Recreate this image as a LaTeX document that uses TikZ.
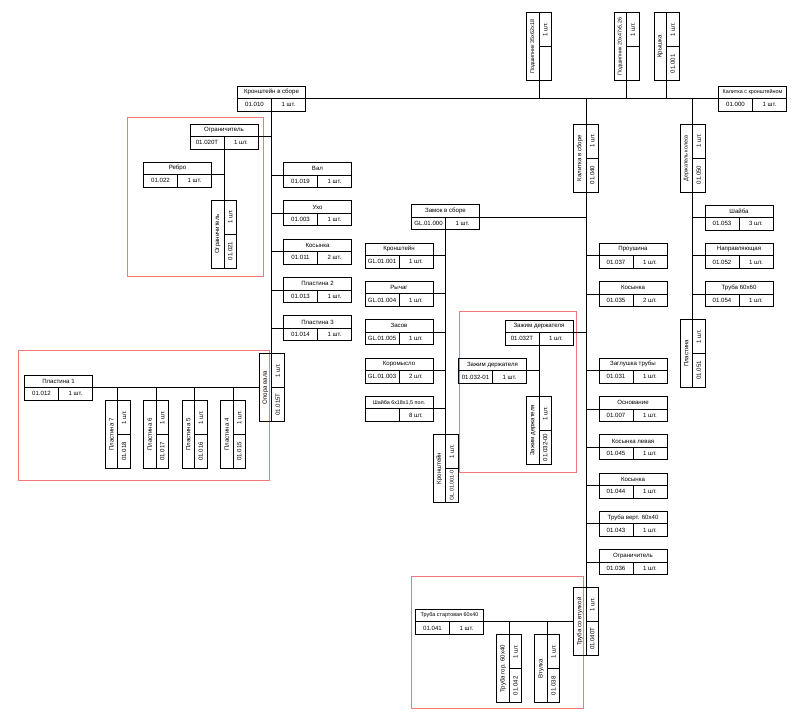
\documentclass[tikz,border=0pt]{standalone}
\usepackage{fontspec}
\setmainfont{Liberation Sans}
\usetikzlibrary{calc}
\definecolor{redframe}{RGB}{240,120,120}
\tikzset{
 part/.style={draw, line width=0.8pt, inner sep=0pt, outer sep=0pt, rectangle},
 hpart/.style={part, minimum width=68pt, minimum height=25pt},
 vpart/.style={part, minimum width=25pt, minimum height=68pt},
 lbl/.style={font=\fontsize{6.1}{7}\selectfont, inner sep=0pt},
 vlbl/.style={lbl, rotate=90},
 link/.style={line width=0.8pt},
 frame/.style={draw=redframe, line width=0.8pt},
}
\newcommand\smalltxt[1]{{\fontsize{5.4}{6}\selectfont #1}}
\newcommand\hbx[5]{%
 \node[hpart] (#1) at (#2) {};
 \draw[link] (#1.west) -- (#1.east) (#1.center) -- (#1.south);
 \node[lbl] (#1-t) at ($(#1.north)!.5!(#1.center)$) {#3};
 \node[lbl] (#1-c) at ($(#1.south west)!.5!(#1.center)$) {#4};
 \node[lbl] (#1-q) at ($(#1.south east)!.5!(#1.center)$) {#5};
}
\newcommand\vbx[5]{%
 \node[vpart] (#1) at (#2) {};
 \draw[link] (#1.north) -- (#1.south) (#1.center) -- (#1.east);
 \node[vlbl] (#1-t) at ($(#1.west)!.5!(#1.center)$) {#3};
 \node[vlbl] (#1-c) at ($(#1.south east)!.5!(#1.center)$) {#4};
 \node[vlbl] (#1-q) at ($(#1.north east)!.5!(#1.center)$) {#5};
}
\begin{document}
\begin{tikzpicture}[x=1pt,y=-1pt]
\useasboundingbox[fill=white] (0,0) rectangle (800,716);
% red frames
\draw[frame] (127.3,117.3) rectangle (263.3,276);
\draw[frame] (18.3,350) rectangle (269.3,480);
\draw[frame] (459,311.7) rectangle (576.7,472.7);
\draw[frame] (411,576.7) rectangle (583.3,708.3);

% top level
\hbx{k010}{271.5,98.5}{Кронштейн в сборе}{01.010}{1 шт.}
\hbx{k000}{752.5,98.5}{\smalltxt{Калитка с кронштейном}}{01.000}{1 шт.}
\vbx{p1}{539,46.7}{\smalltxt{Подшипник 35х62х18}}{}{1 шт.}
\vbx{p2}{626.5,46.7}{\smalltxt{Подшипник 20х47х5,26}}{}{1 шт.}
\vbx{kr001}{666.5,46.7}{Крышка}{01.001}{1 шт.}
\vbx{kv040}{586,158}{Калитка в сборе}{01.040}{1 шт.}
\vbx{d050}{692.5,158}{\smalltxt{Держатель колеса}}{01.050}{1 шт.}

\draw[link] (k010.east) -- (k000.west);
\draw[link] (p1.south) -- (p1.south |- k010.east);
\draw[link] (p2.south) -- (p2.south |- k010.east);
\draw[link] (kr001.south) -- (kr001.south |- k010.east);
\draw[link] (kv040.north) -- (kv040.north |- k010.east);
\draw[link] (d050.north) -- (d050.north |- k010.east);

% Kronshtein v sbore branch
\hbx{o020}{224,136.5}{Ограничитель}{01.020Т}{1 шт.}
\hbx{reb}{177.5,174.5}{Ребро}{01.022}{1 шт.}
\vbx{o021}{224,234}{Ограничитель}{01.021}{1 шт.}
\hbx{val}{317.5,175}{Вал}{01.019}{1 шт.}
\hbx{uho}{317.5,213.3}{Ухо}{01.003}{1 шт.}
\hbx{kos011}{317.5,251.6}{Косынка}{01.011}{2 шт.}
\hbx{pl2}{317.5,289.9}{Пластина 2}{01.013}{1 шт.}
\hbx{pl3}{317.5,328.2}{Пластина 3}{01.014}{1 шт.}
\vbx{op015}{271.5,387.5}{Опора вала}{01.015Т}{1 шт.}
\hbx{pl1}{58.5,387.5}{Пластина 1}{01.012}{1 шт.}
\vbx{pl7}{117.7,434.5}{Пластина 7}{01.018}{1 шт.}
\vbx{pl6}{156,434.5}{Пластина 6}{01.017}{1 шт.}
\vbx{pl5}{194.5,434.5}{Пластина 5}{01.016}{1 шт.}
\vbx{pl4}{233,434.5}{Пластина 4}{01.015}{1 шт.}

\draw[link] (k010.south) -- (op015.north);
\draw[link] (o020.east) -- (o020.east -| k010.south);
\foreach \n in {val,uho,kos011,pl2,pl3}
  \draw[link] (\n.west) -- (\n.west -| k010.south);
\draw[link] (o020.south) -- (o021.north);
\draw[link] (reb.east) -- (reb.east -| o020.south);
\draw[link] (pl1.east) -- (op015.west);
\foreach \n in {pl7,pl6,pl5,pl4}
  \draw[link] (\n.north) -- (\n.north |- pl1.east);

% Kalitka v sbore branch
\hbx{z000}{445.5,217.3}{Замок в сборе}{GL.01.000}{1 шт.}
\hbx{kg001}{399,255.5}{Кронштейн}{GL.01.001}{1 шт.}
\hbx{rg004}{399,293.8}{Рычаг}{GL.01.004}{1 шт.}
\hbx{zs005}{399,332.1}{Засов}{GL.01.005}{1 шт.}
\hbx{km003}{399,370.4}{Коромысло}{GL.01.003}{2 шт.}
\hbx{sh6}{399,408.7}{\smalltxt{Шайба 6х18х1,5 пол.}}{}{8 шт.}
\vbx{kr0010}{445.5,468.5}{Кронштейн}{\smalltxt{GL.01.001-0}}{1 шт.}
\draw[link] (z000.east) -- (z000.east -| kv040.south);
\draw[link] (z000.south) -- (kr0010.north);
\foreach \n in {kg001,rg004,zs005,km003,sh6}
  \draw[link] (\n.east) -- (\n.east -| z000.south);

\hbx{zd032}{539,332.5}{Зажим держателя}{01.032Т}{1 шт.}
\hbx{zd01}{492.5,370.8}{Зажим держателя}{01.032-01}{1 шт.}
\vbx{zd00}{539,430.5}{Зажим держателя}{01.032-00}{1 шт.}
\draw[link] (zd032.east) -- (zd032.east -| kv040.south);
\draw[link] (zd032.south) -- (zd00.north);
\draw[link] (zd01.east) -- (zd01.east -| zd032.south);

\hbx{pr037}{633,255.7}{Проушина}{01.037}{1 шт.}
\hbx{kos035}{633,294}{Косынка}{01.035}{2 шт.}
\hbx{zg031}{633,370.6}{Заглушка трубы}{01.031}{1 шт.}
\hbx{os007}{633,408.9}{Основание}{01.007}{1 шт.}
\hbx{kl045}{633,447.2}{Косынка левая}{01.045}{1 шт.}
\hbx{kos044}{633,485.5}{Косынка}{01.044}{1 шт.}
\hbx{tv043}{633,523.8}{Труба верт. 60х40}{01.043}{1 шт.}
\hbx{og036}{633,562.1}{Ограничитель}{01.036}{1 шт.}
\foreach \n in {pr037,kos035,zg031,os007,kl045,kos044,tv043,og036}
  \draw[link] (\n.west) -- (\n.west -| kv040.south);

\vbx{t040}{586,621.7}{Труба со втулкой}{01.040Т}{1 шт.}
\hbx{ts041}{449.5,621.7}{\smalltxt{Труба стартовая 60х40}}{01.041}{1 шт.}
\vbx{tg042}{509.3,668.8}{Труба гор. 60х40}{01.042}{1 шт.}
\vbx{vt038}{547.3,668.8}{Втулка}{01.038}{1 шт.}
\draw[link] (kv040.south) -- (t040.north);
\draw[link] (ts041.east) -- (t040.west);
\draw[link] (tg042.north) -- (tg042.north |- ts041.east);
\draw[link] (vt038.north) -- (vt038.north |- ts041.east);

% Derzhatel kolesa branch
\hbx{sh053}{739,217.5}{Шайба}{01.053}{3 шт.}
\hbx{np052}{739,255.7}{Направляющая}{01.052}{1 шт.}
\hbx{tr054}{739,294}{Труба 60х60}{01.054}{1 шт.}
\vbx{pl051}{692.5,353.3}{Пластина}{01.051}{1 шт.}
\draw[link] (d050.south) -- (pl051.north);
\foreach \n in {sh053,np052,tr054}
  \draw[link] (\n.west) -- (\n.west -| d050.south);
\end{tikzpicture}
\end{document}
